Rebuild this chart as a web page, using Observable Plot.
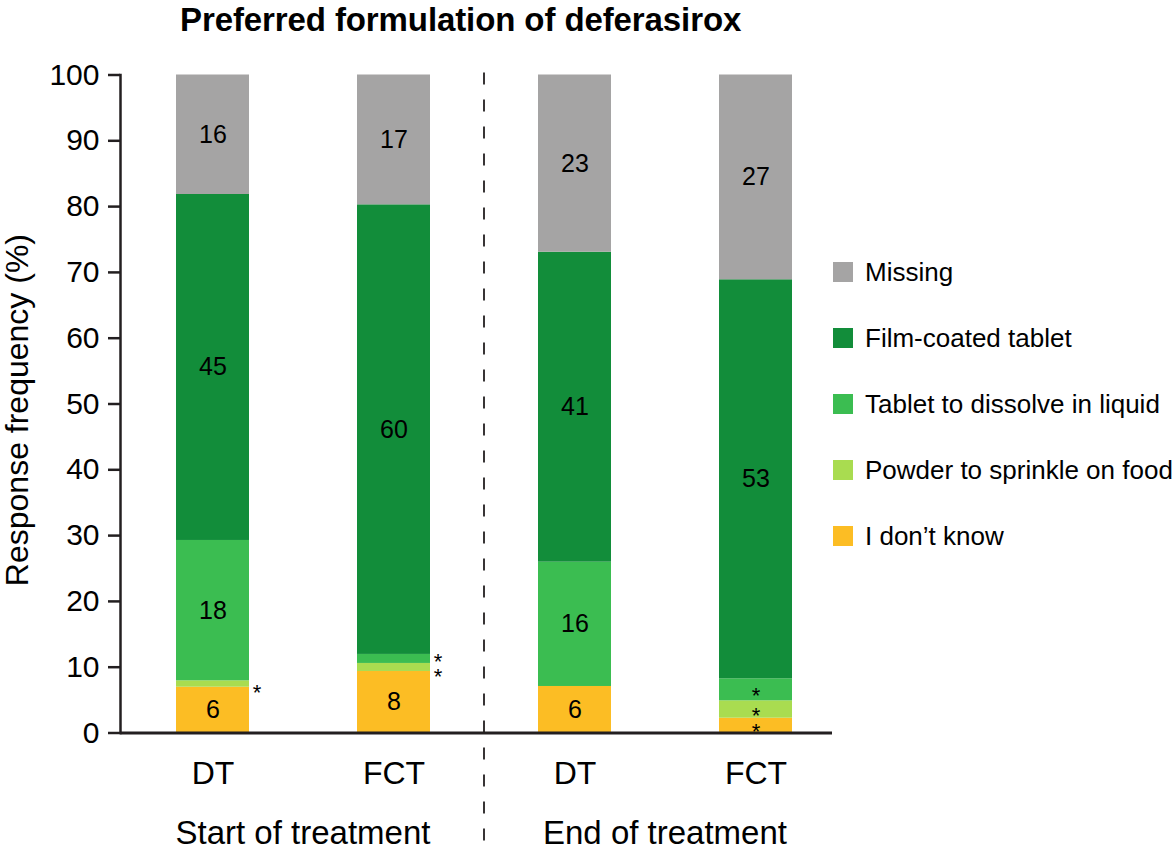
<!DOCTYPE html>
<html>
<head>
<meta charset="utf-8">
<script src="https://cdn.jsdelivr.net/npm/d3@7"></script>
<script src="https://cdn.jsdelivr.net/npm/@observablehq/plot@0.6"></script>
<style>
  body { margin: 0; background: #fff; }
  #wrap { position: relative; width: 1176px; height: 849px; overflow: hidden;
          font-family: "Liberation Sans", Arial, Helvetica, sans-serif; color: #000; }
  #title { position: absolute; left: 180px; top: 3px; font-size: 33px; font-weight: bold;
           line-height: 1.05; white-space: nowrap; letter-spacing: -0.1px; }
  #chart { position: absolute; left: 0; top: 0; }
  #legend { position: absolute; left: 833px; top: 239px; }
  .row { display: flex; align-items: center; height: 66px; font-size: 26px; white-space: nowrap; }
  .sw { width: 20px; height: 20px; margin-right: 12px; flex: none; }
</style>
</head>
<body>
<div id="wrap">
  <div id="chart"></div>
  <div id="title">Preferred formulation of deferasirox</div>
  <div id="legend"></div>
</div>
<script>
// ---- data ----
const bars = ["Start|DT", "Start|FCT", "End|DT", "End|FCT"];
const periods = ["Start of treatment", "End of treatment"];
const responses = ["I don\u2019t know", "Powder to sprinkle on food", "Tablet to dissolve in liquid", "Film-coated tablet", "Missing"];
const colors = ["#fcbd24", "#a9dc50", "#3bbd51", "#128d3a", "#a5a4a4"];

const startDTValues  = [6.96, 0.97, 21.33, 52.58, 18.16];
const startFCTValues = [9.35, 1.22, 1.37, 68.33, 19.73];
const endDTValues    = [7.07, 0, 18.89, 47.11, 26.93];
const endFCTValues   = [2.25, 2.64, 3.35, 60.64, 31.12];

const startDTLabels  = ["6", "*", "18", "45", "16"];
const startFCTLabels = ["8", "*", "*", "60", "17"];
const endDTLabels    = ["6", "", "16", "41", "23"];
const endFCTLabels   = ["*", "*", "*", "53", "27"];

const outsideStarBars = ["Start|DT", "Start|FCT"];
const yTicks = [0, 10, 20, 30, 40, 50, 60, 70, 80, 90, 100];
const yLabel = "Response frequency (%)";

// ---- build table ----
const valueSets = [startDTValues, startFCTValues, endDTValues, endFCTValues];
const labelSets = [startDTLabels, startFCTLabels, endDTLabels, endFCTLabels];
const data = [];
bars.forEach((b, i) => {
  responses.forEach((r, j) => {
    data.push({bar: b, response: r, value: valueSets[i][j], label: labelSets[i][j]});
  });
});

const font = '"Liberation Sans", Arial, Helvetica, sans-serif';
const axisColor = "#231f20";

const isStar = d => d.label === "*";
const isOutside = d => outsideStarBars.includes(d.bar);
const stackOpts = extra => Plot.stackY({x: "bar", y: "value", z: "response", fill: "#000", ...extra});

const plot = Plot.plot({
  width: 1176,
  height: 849,
  marginTop: 74.5,
  marginBottom: 116.5,
  marginLeft: 120,
  marginRight: 344,
  style: {fontFamily: font, color: "#000", background: "#fff", overflow: "visible"},
  x: {type: "band", domain: bars, paddingInner: 0.598, paddingOuter: 0.26, align: 0.577, axis: null},
  y: {domain: [0, 100], axis: null},
  color: {domain: responses, range: colors},
  marks: [
    Plot.barY(data, Plot.stackY({x: "bar", y: "value", fill: "response", z: "response"})),
    // count labels inside segments
    Plot.text(data, stackOpts({text: d => isStar(d) ? null : d.label, fontSize: 25})),
    // asterisks inside segments
    Plot.text(data, stackOpts({text: d => isStar(d) && !isOutside(d) ? "*" : null, fontSize: 22, dy: 6})),
    // asterisks beside the bar (upper one nudged up, lower nudged down so they don't collide)
    Plot.text(data, stackOpts({text: d => isStar(d) && isOutside(d) && d.response === responses[2] ? "*" : null,
      fontSize: 22, dx: 44, dy: 3})),
    Plot.text(data, stackOpts({text: d => isStar(d) && isOutside(d) && d.response === responses[1] ? "*" : null,
      fontSize: 22, dx: 44, dy: 9})),
    Plot.axisX({tickSize: 0, tickPadding: 28, fontSize: 32, tickFormat: d => d.split("|")[1], label: null}),
    Plot.axisY({ticks: yTicks, tickSize: 12, tickPadding: 9, fontSize: 30, stroke: axisColor, strokeWidth: 2.5,
      label: null}),
    Plot.frame({anchor: "left", stroke: axisColor, strokeWidth: 2.5}),
    Plot.ruleY([0], {stroke: axisColor, strokeWidth: 3})
  ]
});
document.getElementById("chart").appendChild(plot);

// ---- group labels, y label and divider, positioned through the plot's scales ----
const xs = plot.scale("x");
const ys = plot.scale("y");
const center = k => xs.apply(k) + xs.bandwidth / 2;
const svg = d3.select(plot);
const y0 = ys.apply(0), y100 = ys.apply(100);
const groupCenters = [
  (center(bars[0]) + center(bars[1])) / 2,
  (center(bars[2]) + center(bars[3])) / 2
];
svg.append("g")
  .selectAll("text").data(periods).join("text")
  .attr("x", (d, i) => groupCenters[i])
  .attr("y", y0 + 111)
  .attr("text-anchor", "middle")
  .attr("font-size", 33)
  .attr("font-family", font)
  .attr("fill", "#000")
  .text(d => d);

svg.append("text")
  .attr("transform", `translate(${xs.range[0] - 92},${ys.apply(49)}) rotate(-90)`)
  .attr("text-anchor", "middle")
  .attr("font-size", 32)
  .attr("font-family", font)
  .attr("fill", "#000")
  .text(yLabel);

const divX = (center(bars[1]) + center(bars[2])) / 2;
svg.append("line")
  .attr("x1", divX).attr("x2", divX)
  .attr("y1", y100 - 2).attr("y2", 849)
  .attr("stroke", axisColor).attr("stroke-width", 1.8)
  .attr("stroke-dasharray", "12,15");

// ---- legend (top to bottom: reverse of stack order) ----
const legend = d3.select("#legend");
responses.slice().reverse().forEach(r => {
  const row = legend.append("div").attr("class", "row");
  row.append("div").attr("class", "sw").style("background", colors[responses.indexOf(r)]);
  row.append("span").text(r);
});
</script>
</body>
</html>
